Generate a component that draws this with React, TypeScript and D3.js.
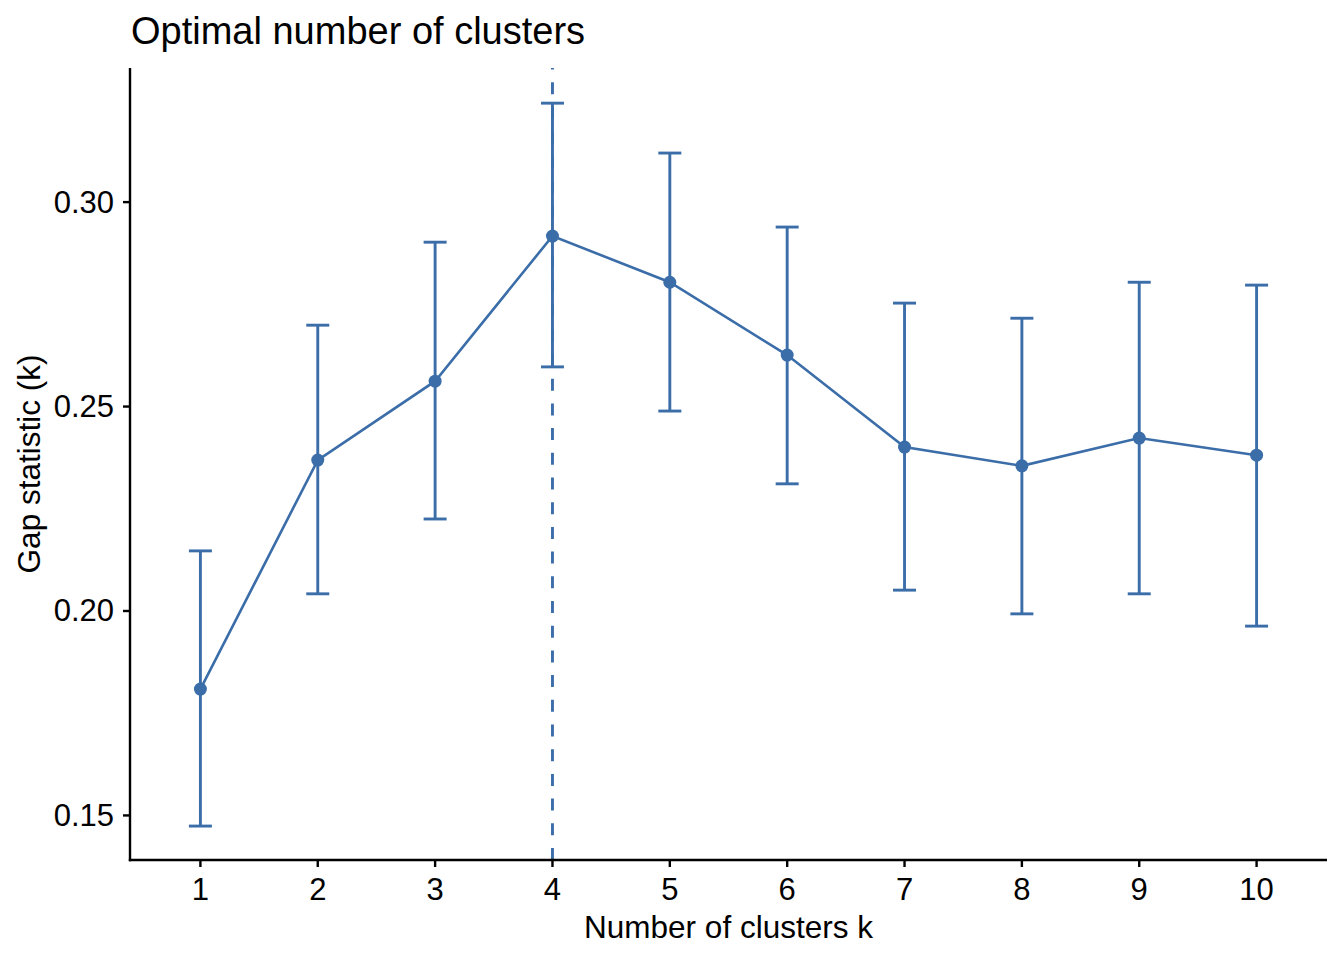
import React from "react";
import * as d3 from "d3";

const clusters = [1, 2, 3, 4, 5, 6, 7, 8, 9, 10];
const gap = [0.1809, 0.2369, 0.2562, 0.2917, 0.2804, 0.2626, 0.2401, 0.2355, 0.2423, 0.2381];
const gapHigh = [0.2147, 0.2699, 0.2902, 0.3242, 0.3120, 0.2939, 0.2753, 0.2716, 0.2804, 0.2797];
const gapLow = [0.1474, 0.2042, 0.2225, 0.2597, 0.2489, 0.2311, 0.2051, 0.1993, 0.2042, 0.1963];
const yTicks = [0.15, 0.2, 0.25, 0.3];
const optimalK = 4;

const W = 1344;
const H = 960;
const left = 130;
const right = 1327;
const top = 68;
const bottom = 860;
const COLOR = "#3B6DA9";
const FONT = "'Liberation Sans', Arial, Helvetica, sans-serif";

export default function App() {
  const x = d3.scaleLinear().domain([0.4, 10.6]).range([left, right]);
  const y = d3.scaleLinear().domain([0.1391, 0.3328]).range([bottom, top]);
  const line = d3
    .line<number>()
    .x((_, i) => x(clusters[i]))
    .y((d) => y(d));
  const cap = 11.5;

  return (
    <svg
      width={W}
      height={H}
      style={{ position: "absolute", left: 0, top: 0, display: "block", background: "#fff" }}
      fontFamily={FONT}
    >
      <rect x={0} y={0} width={W} height={H} fill="#fff" />
      {/* title */}
      <text x={131} y={44} fontSize={38} fill="#000">
        Optimal number of clusters
      </text>

      {/* dashed optimal line */}
      <line
        x1={x(optimalK)}
        x2={x(optimalK)}
        y1={bottom}
        y2={top}
        stroke={COLOR}
        strokeWidth={2.9}
        strokeDasharray="12,12.7"
      />

      {/* error bars */}
      {clusters.map((k, i) => (
        <g key={"eb" + k} stroke={COLOR} strokeWidth={2.9}>
          <line x1={x(k)} x2={x(k)} y1={y(gapLow[i])} y2={y(gapHigh[i])} />
          <line x1={x(k) - cap} x2={x(k) + cap} y1={y(gapLow[i])} y2={y(gapLow[i])} />
          <line x1={x(k) - cap} x2={x(k) + cap} y1={y(gapHigh[i])} y2={y(gapHigh[i])} />
        </g>
      ))}

      {/* line */}
      <path d={line(gap) || ""} fill="none" stroke={COLOR} strokeWidth={2.6} />

      {/* points */}
      {clusters.map((k, i) => (
        <circle key={"pt" + k} cx={x(k)} cy={y(gap[i])} r={6.5} fill={COLOR} />
      ))}

      {/* axes */}
      <line x1={left} x2={left} y1={top} y2={bottom + 1.2} stroke="#000" strokeWidth={2.4} />
      <line x1={left - 1.2} x2={right} y1={bottom} y2={bottom} stroke="#000" strokeWidth={2.4} />

      {yTicks.map((t) => (
        <g key={"yt" + t}>
          <line x1={left - 7} x2={left} y1={y(t)} y2={y(t)} stroke="#000" strokeWidth={2.4} />
          <text
            x={114}
            y={y(t)}
            textAnchor="end"
            dominantBaseline="central"
            fontSize={31}
            fill="#000"
          >
            {t.toFixed(2)}
          </text>
        </g>
      ))}

      {clusters.map((k) => (
        <g key={"xt" + k}>
          <line x1={x(k)} x2={x(k)} y1={bottom} y2={bottom + 7} stroke="#000" strokeWidth={2.4} />
          <text x={x(k)} y={900} textAnchor="middle" fontSize={31} fill="#000">
            {k}
          </text>
        </g>
      ))}

      {/* axis titles */}
      <text x={(left + right) / 2} y={938} textAnchor="middle" fontSize={31.5} fill="#000">
        Number of clusters k
      </text>
      <text
        transform={`translate(40, ${(top + bottom) / 2}) rotate(-90)`}
        textAnchor="middle"
        fontSize={31.5}
        fill="#000"
      >
        Gap statistic (k)
      </text>
    </svg>
  );
}
